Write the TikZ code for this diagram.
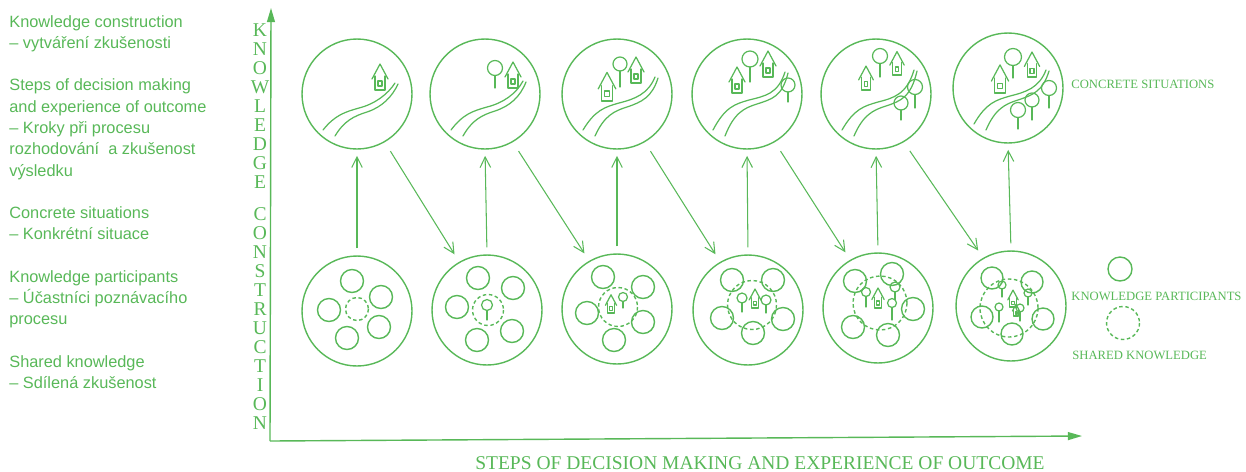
\documentclass[tikz,border=0pt]{standalone}
\usepackage{fontspec}
\setmainfont{Liberation Sans}
\newfontfamily\capsfont{Liberation Serif}
\usetikzlibrary{arrows.meta}
\definecolor{sketch}{RGB}{88,184,88}

% road: #1 lift of the middle part, #2 height of the upper end
\newcommand{\road}[2]{%
  \draw[sketchline] (-34,36) .. controls (-22,21-#1) and (-12,18-#1) .. (2,14-#1) .. controls (18,10-#1) and (31,0) .. (38,#2);
  \draw[sketchline] (-22,42) .. controls (-13,27-#1) and (-3,22-#1) .. (10,18-#1) .. controls (25,13-#1) and (35,3) .. (41,#2+1);}
% house: base centre x, y, scale
\newcommand{\house}[3]{%
  \begin{scope}[shift={(#1,#2)}, scale=#3]
    \draw[sketchline] (-8,-11) -- (0,-26) -- (8,-11);
    \draw[sketchline] (-5,-14) -- (-5,0) -- (5,0) -- (5,-14);
    \draw[sketchline] (-2,-9) rectangle (2,-4);
  \end{scope}}
% tree: crown x, y, radius, foot of the trunk
\newcommand{\tree}[4]{%
  \draw[sketchline] (#1,#2) circle[radius=#3];
  \draw[sketchline] (#1,#2+#3) -- (#1,#4);}

\begin{document}
\begin{tikzpicture}[x=0.02cm, y=-0.02cm, color=sketch,
  situation/.style={draw, circle, minimum size=2.2cm, inner sep=0pt, line width=0.8pt},
  sketchline/.style={line width=0.7pt, line cap=round, line join=round},
  participant/.style={line width=0.8pt},
  shared/.style={line width=0.8pt, dash pattern=on 2pt off 1.5pt},
  flow/.style={-{Straight Barb[length=6pt,width=6pt]}, line width=0.6pt, shorten <=4pt, shorten >=3.5pt},
  axis/.style={-{Triangle[length=8pt,width=4.5pt]}, line width=0.8pt},
  caption/.style={font=\capsfont\fontsize{7.2}{8}\selectfont, anchor=west, inner sep=0pt},
  axislabel/.style={font=\capsfont\fontsize{11.1}{12}\selectfont, inner sep=0pt}]
\useasboundingbox (0,0) rectangle (1246,471);

% legend text
\node[font=\fontsize{9.3}{12.1}\selectfont, align=left, anchor=north west, inner sep=0pt] (notes) at (9,15)
  {Knowledge construction\\– vytváření zkušenosti\\[12.1pt]
   Steps of decision making\\and experience of outcome\\– Kroky při procesu\\rozhodování~ a zkušenost\\výsledku\\[12.1pt]
   Concrete situations\\– Konkrétní situace\\[12.1pt]
   Knowledge participants\\– Účastníci poznávacího\\procesu\\[12.1pt]
   Shared knowledge\\– Sdílená zkušenost};

% axes
\coordinate (origin) at (270,441);
\coordinate (yend) at (271,8);
\coordinate (xend) at (1082,436);
\draw[axis] (origin) -- (yend);
\draw[axis] (origin) -- (xend);
\foreach \l [count=\i] in {K,N,O,W,L,E,D,G,E}
  \node[axislabel] (ka\i) at (260,11+19*\i) {\l};
\foreach \l [count=\i] in {C,O,N,S,T,R,U,C,T,I,O,N}
  \node[axislabel] (kb\i) at (260,195+19*\i) {\l};
\node[axislabel] (xlabel) at (760,463) {STEPS OF DECISION MAKING AND EXPERIENCE OF OUTCOME};

% circles
\foreach \n/\x/\y in {1/357/94, 2/485/94, 3/617/94, 4/747/94, 5/876/94, 6/1008/88}
  \node[situation] (t\n) at (\x,\y) {};
\foreach \n/\x/\y in {1/357/311, 2/487/310, 3/617/309, 4/748/310, 5/878/308, 6/1011/306}
  \node[situation] (b\n) at (\x,\y) {};

% concrete situations
\begin{scope}[shift={(t1.center)}]
  \road{0}{-11}
  \house{23}{-4}{1}
\end{scope}
\begin{scope}[shift={(t2.center)}]
  \road{1}{-13}
  \tree{10}{-26}{7.5}{-6}
  \house{28}{-6}{1}
\end{scope}
\begin{scope}[shift={(t3.center)}]
  \road{5}{-17}
  \house{-10}{7}{1.1}
  \house{19}{-11}{1}
  \tree{3}{-30}{7}{-7}
\end{scope}
\begin{scope}[shift={(t4.center)}]
  \road{8}{-22}
  \house{-10}{-1}{1}
  \house{21}{-17}{1}
  \tree{3}{-35}{8}{-12}
  \tree{41}{-9}{7}{8}
\end{scope}
\begin{scope}[shift={(t5.center)}]
  \road{6}{-24}
  \house{-10}{-4}{0.92}
  \house{21}{-19}{0.9}
  \tree{4}{-38}{7.5}{-17}
  \tree{39}{-7}{7.5}{14}
  \tree{25}{9}{7}{26}
\end{scope}
\begin{scope}[shift={(t6.center)}]
  \road{6}{-18}
  \house{-8}{5}{1.08}
  \house{24}{-11}{0.96}
  \tree{5}{-31}{8.5}{-10}
  \tree{41}{0}{7.5}{20}
  \tree{24}{12}{7}{32}
  \tree{10}{22}{7.5}{41}
\end{scope}

% knowledge participants and shared knowledge
\begin{scope}[shift={(b1.center)}]
  \foreach \px/\py in {-5/-30, 24/-14, 22/16, -10/27, -28/-1}
    \draw[participant] (\px,\py) circle[radius=11.5];
  \draw[shared] (0,-2) circle[radius=11.5];
\end{scope}
\begin{scope}[shift={(b2.center)}]
  \foreach \px/\py in {-9/-32, 26/-22, 25/21, -10/30, -30/-3}
    \draw[participant] (\px,\py) circle[radius=11.5];
  \draw[shared] (1,0) circle[radius=15.5];
  \tree{0}{-5}{5.5}{10}
\end{scope}
\begin{scope}[shift={(b3.center)}]
  \foreach \px/\py in {-14/-32, 26/-22, 26/13, -3/31, -30/4}
    \draw[participant] (\px,\py) circle[radius=11.5];
  \draw[shared] (1,-2) circle[radius=19.5];
  \house{-6}{4}{0.7}
  \tree{6}{-12}{4.5}{-1}
\end{scope}
\begin{scope}[shift={(b4.center)}]
  \foreach \px/\py in {-16/-30, 25/-30, 35/9, 5/23, -26/8}
    \draw[participant] (\px,\py) circle[radius=11.5];
  \draw[shared] (4,-5) circle[radius=24.5];
  \tree{-6}{-12}{5}{2}
  \house{7}{-2}{0.73}
  \tree{18}{-10}{5}{3}
\end{scope}
\begin{scope}[shift={(b5.center)}]
  \foreach \px/\py in {-23/-27, 14/-34, 35/1, 10/27, -25/19}
    \draw[participant] (\px,\py) circle[radius=11.5];
  \draw[shared] (2,-5) circle[radius=27];
  \tree{-12}{-16}{4.5}{-1}
  \house{0}{0}{0.77}
  \tree{17}{-21}{5}{-8}
  \tree{14}{-5}{4.5}{12}
\end{scope}
\begin{scope}[shift={(b6.center)}]
  \foreach \px/\py in {-19/-28, 21/-24, 32/13, 1/28, -29/11}
    \draw[participant] (\px,\py) circle[radius=11];
  \draw[shared] (-2,2) circle[radius=29];
  \tree{-9}{-21}{4}{-9}
  \house{2}{1}{0.65}
  \tree{17}{-13}{4}{-1}
  \tree{-12}{1}{4}{16}
  \tree{9}{2}{4}{15}
  \house{5}{10}{0.45}
\end{scope}

% steps
\foreach \i in {1,...,6}
  \draw[flow] (b\i.north) -- (t\i.south);
\foreach \i/\j in {1/2, 2/3, 3/4, 4/5, 5/6}
  \draw[flow, shorten <=6pt, shorten >=5pt] (t\i.-60) -- (b\j.120);

% legend
\node[caption] (cs) at (1071,84) {CONCRETE SITUATIONS};
\draw[participant] (1120,269) circle[radius=12];
\node[caption] (kp) at (1071,296) {KNOWLEDGE PARTICIPANTS};
\draw[shared] (1123,323) circle[radius=16.5];
\node[caption] (sk) at (1072,355) {SHARED KNOWLEDGE};
\end{tikzpicture}
\end{document}
